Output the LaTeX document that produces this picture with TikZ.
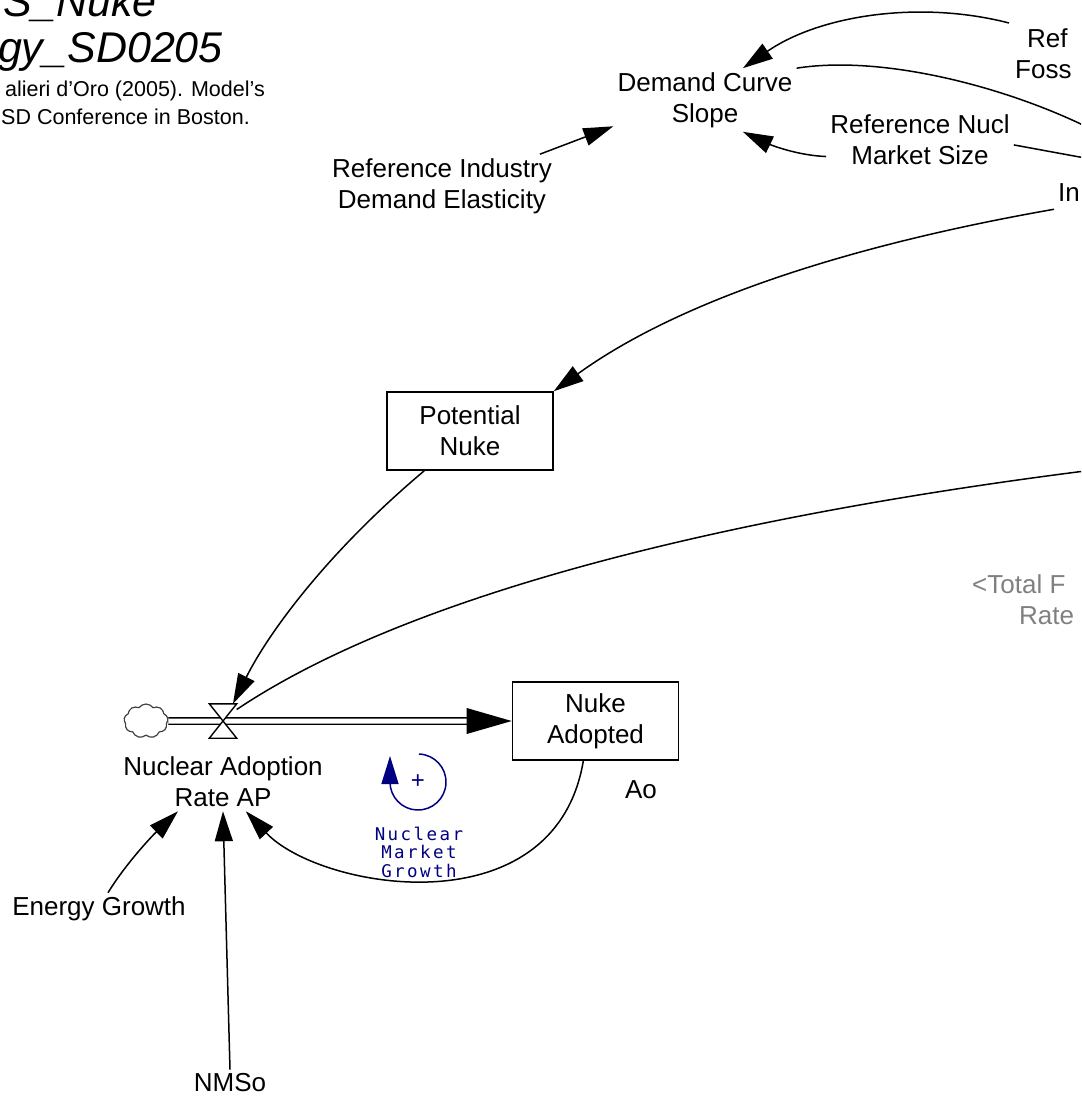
\documentclass[tikz,border=0pt]{standalone}
\usepackage{fontspec}
\setmainfont{Liberation Sans}
\newfontfamily\loopfont[LetterSpace=14]{DejaVu Sans Mono}
\usetikzlibrary{arrows.meta,shapes.symbols,calc}
\definecolor{loopblue}{RGB}{0,0,128}
\definecolor{shadowgray}{RGB}{128,128,128}
\tikzset{
  var/.style={inner sep=4pt, align=center, font=\fontsize{26}{31}\selectfont},
  stock/.style={draw, line width=1.6pt, minimum width=166pt, minimum height=78pt, inner sep=0, align=center, font=\fontsize{26}{31}\selectfont},
  title/.style={anchor=base east, inner sep=0, font=\fontsize{43}{45}\selectfont\itshape},
  note/.style={anchor=base east, inner sep=0, font=\fontsize{21.5}{24}\selectfont},
  link/.style={line width=1.5pt, -{Triangle[length=30pt,width=18pt]}},
  plainlink/.style={line width=1.5pt},
  pipe/.style={double, double distance=5pt, line width=1.4pt},
  valvebox/.style={minimum width=27pt, minimum height=34pt, inner sep=0},
}
\begin{document}
\begin{tikzpicture}[x=1pt,y=1pt,yscale=-1,xscale=1]
\useasboundingbox (0,0) rectangle (1081,1102);
\clip (0,0) rectangle (1081,1102);

% Text Node
\node [title] (titleA) at (157,17) {S\_Nuke};
\node [title] (titleB) at (223,63) {gy\_SD0205};
\node [note] (noteA) at (265,97) {alieri d'Oro (2005). Model's};
\node [note] (noteB) at (250,125) {SD Conference in Boston.};

% Text Node
\node [var] (dcs) at (705,100) {Demand Curve\\Slope};
\node [var] (ride) at (442,186) {Reference Industry\\Demand Elasticity};
\node [var] (rnms) at (920,140) {Reference Nucl\\Market Size};
\node [var, anchor=north west, align=left] (refFoss) at (1011,24) {\hspace*{12pt}Ref\\Foss};
\node [var, anchor=north west] (inNode) at (1054,179) {In};
\node [var, anchor=north west, align=left, text=shadowgray] (totalRate) at (968,570) {<Total F\\\hspace*{47pt}Rate};
\node [var] (nar) at (223,782) {Nuclear Adoption\\Rate AP};
\node [var] (ao) at (641,790) {Ao};
\node [var] (eg) at (99,909) {Energy Growth};
\node [var] (nmso) at (230,1083) {NMSo};

%Shape: Rectangle
\node [stock] (pn) at (470,431) {Potential\\Nuke};
\node [stock] (na) at (595.5,721) {Nuke\\Adopted};

% free ends at the right border
\coordinate (offA) at (1085,126);
\coordinate (offB) at (1085,158);
\coordinate (offC) at (1085,471);

%Shape: Cloud and flow
\node [cloud, draw=black!75, line width=1.2pt, cloud puffs=9, cloud puff arc=110, aspect=1.3, minimum width=44pt, minimum height=34pt, inner sep=0] (source) at (146,721) {};
\node [valvebox] (valve) at (223,721) {};
\coordinate (pipeend) at ($(na.west)+(-44,0)$);
\draw [pipe] (source.east) -- (pipeend);
\fill (na.west) -- ($(na.west)+(-45,-13)$) -- ($(na.west)+(-45,13)$) -- cycle;
\filldraw [fill=white, line width=1.4pt] (valve.north west) -- (valve.north east) -- (valve.south west) -- (valve.south east) -- cycle;

%Curve Lines
\draw [link] ($(refFoss.north west)+(-2,-1)$) .. controls (920,0) and (820,15) .. (dcs.40);
\draw [plainlink] (dcs.north east) .. controls (880,55) and (1000,85) .. (offA);
\draw [link] (rnms.190) .. controls (790,155) and (760,140) .. (dcs.-40);
%Straight Lines
\draw [plainlink] (rnms.-3) -- (offB);
\draw [link] (ride.18) -- (dcs.196);
%Curve Lines
\draw [link] ($(inNode.south west)+(0,4)$) .. controls (850,245) and (680,300) .. (pn.north east);
\draw [link] (pn.221) .. controls (330,550) and (270,630) .. (valve.60);
\draw [plainlink] (offC) .. controls (700,520) and (400,600) .. (valve.40);
\draw [link] ($(eg.north)+(9,0)$) .. controls (125,865) and (150,838) .. (nar.213);
%Straight Lines
\draw [link] (nmso.north) -- (nar.south);
%Curve Lines
\draw [link] (na.253) .. controls (555,930) and (320,890) .. (nar.308);

%Loop
\coordinate (loopc) at (418,782);
\draw [loopblue, line width=1.5pt, -{Triangle[length=28pt,width=17pt]}] ($(loopc)+(-88:28)$) arc [start angle=-88, end angle=180, radius=28] -- ++(0,-26);
\node [text=loopblue, inner sep=0, font=\fontsize{24}{26}\selectfont] (loopsign) at (loopc) {+};
\node [text=loopblue, inner sep=0, align=center, font=\loopfont\fontsize{17.5}{18.5}\selectfont] (loopname) at (419,852) {Nuclear\\Market\\Growth};

\end{tikzpicture}
\end{document}
